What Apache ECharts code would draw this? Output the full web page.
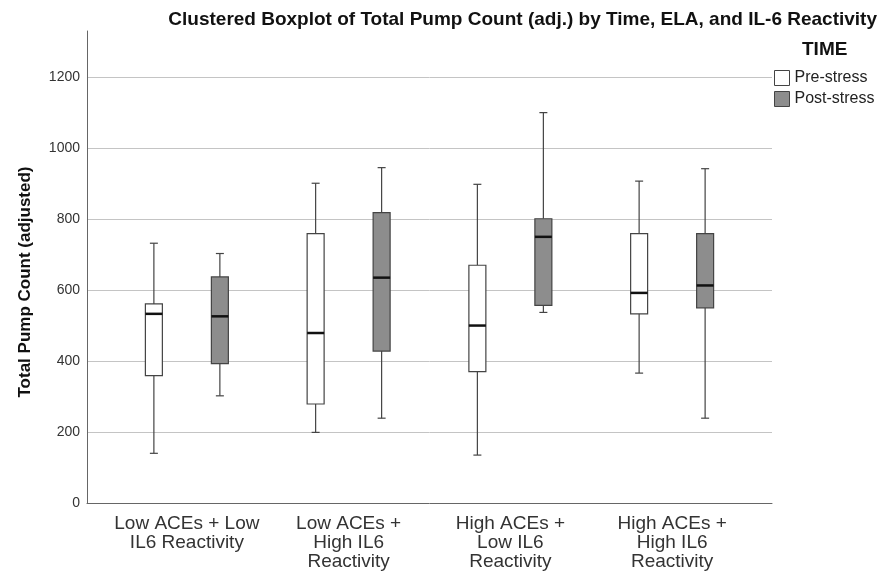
<!DOCTYPE html>
<html>
<head>
<meta charset="utf-8">
<script src="https://cdn.jsdelivr.net/npm/echarts@6.0.0/dist/echarts.min.js"></script>
<style>
    html, body {margin: 0; padding: 0; background: #fff;}
    #chart {width: 881px; height: 578px;}
</style>
</head>
<body>
<div id="chart"></div>
<script>
const categories = [
    'Low ACEs + Low\nIL6 Reactivity',
    'Low ACEs +\nHigh IL6\nReactivity',
    'High ACEs +\nLow IL6\nReactivity',
    'High ACEs +\nHigh IL6\nReactivity'
]
const seriesNames = ['Pre-stress', 'Post-stress']
// [min, Q1, median, Q3, max]
const preStress = [
    [140, 359, 533, 561, 732],
    [199, 279, 479, 759, 901],
    [135, 370, 500, 670, 898],
    [366, 533, 592, 759, 907]
]
const postStress = [
    [302, 393, 526, 637, 703],
    [239, 428, 635, 818, 945],
    [537, 557, 750, 801, 1100],
    [239, 550, 613, 759, 942]
]
const yTicks = [0, 200, 400, 600, 800, 1000, 1200]
const yMax = 1330

const FONT = '"Liberation Sans", Arial, sans-serif'
const LINE = '#444'

// 箱体相对分组中心的偏移与宽度（按带宽比例）
function boxRenderer(side, fill) {
    return function (params, api) {
        const band = api.size([1, 0])[0]
        const cat = api.value(0)
        const x = api.coord([cat, 0])[0] + side * band * 0.204
        const half = band * 0.105 / 2
        const cap = 4
        const y = k => api.coord([cat, api.value(k)])[1]
        const lo = y(1), q1 = y(2), med = y(3), q3 = y(4), hi = y(5)
        const ls = {stroke: LINE, lineWidth: 1.2}
        return {
            type: 'group',
            children: [
                {type: 'line', shape: {x1: x, y1: hi, x2: x, y2: q3}, style: ls},
                {type: 'line', shape: {x1: x, y1: q1, x2: x, y2: lo}, style: ls},
                {type: 'line', shape: {x1: x - cap, y1: hi, x2: x + cap, y2: hi}, style: ls},
                {type: 'line', shape: {x1: x - cap, y1: lo, x2: x + cap, y2: lo}, style: ls},
                {type: 'rect', shape: {x: x - half, y: q3, width: half * 2, height: q1 - q3},
                    style: {fill: fill, stroke: LINE, lineWidth: 1.2}},
                {type: 'line', shape: {x1: x - half, y1: med, x2: x + half, y2: med},
                    style: {stroke: '#111', lineWidth: 2.5}}
            ]
        }
    }
}

function toItems(rows) {
    return rows.map((r, i) => [i].concat(r))
}

const fills = ['#ffffff', '#8d8d8d']

const option = {
    backgroundColor: '#fff',
    animation: false,
    title: [
        {
            text: 'Clustered Boxplot of Total Pump Count (adj.) by Time, ELA, and IL-6 Reactivity',
            right: 4,
            top: 10,
            padding: 0,
            textStyle: {fontFamily: FONT, fontSize: 19, fontWeight: 'bold', color: '#111'}
        },
        {
            text: 'TIME',
            left: 802,
            top: 40,
            padding: 0,
            textStyle: {fontFamily: FONT, fontSize: 19, fontWeight: 'bold', color: '#111'}
        }
    ],
    legend: {
        orient: 'vertical',
        left: 774,
        top: 70,
        padding: 0,
        itemWidth: 15,
        itemHeight: 15,
        itemGap: 5,
        icon: 'rect',
        textStyle: {fontFamily: FONT, fontSize: 16, color: '#222'},
        data: seriesNames.map((n, i) => ({
            name: n,
            itemStyle: {color: fills[i], borderColor: LINE, borderWidth: 1}
        }))
    },
    grid: [
        {left: 87, right: 109, top: 31, bottom: 75},
        {left: 106, right: 128, top: 31, bottom: 75}
    ],
    xAxis: [
        {
            type: 'value', gridIndex: 0, min: 0, max: 1,
            axisLine: {show: true, lineStyle: {color: '#666', width: 1}},
            axisTick: {show: false}, axisLabel: {show: false}, splitLine: {show: false}
        },
        {
            type: 'category', gridIndex: 1, data: categories,
            axisLine: {show: false}, axisTick: {show: false},
            axisLabel: {
                interval: 0, margin: 11, fontFamily: FONT, fontSize: 19,
                lineHeight: 19, color: '#333'
            }
        }
    ],
    yAxis: [
        {
            type: 'value', gridIndex: 0, min: 0, max: yMax, interval: 200,
            name: 'Total Pump Count (adjusted)',
            nameLocation: 'middle',
            nameGap: 53,
            nameTextStyle: {
                fontFamily: FONT, fontSize: 17, fontWeight: 'bold', color: '#111',
                padding: [0, 30, 0, 0]
            },
            axisLine: {show: true, lineStyle: {color: '#666', width: 1}},
            axisTick: {show: false},
            axisLabel: {
                margin: 7, fontFamily: FONT, fontSize: 14, color: '#333',
                formatter: v => (yTicks.indexOf(v) >= 0 ? String(v) : '')
            },
            splitLine: {
                show: true, showMinLine: false, showMaxLine: false,
                lineStyle: {color: '#c4c4c4', width: 1}
            }
        },
        {type: 'value', gridIndex: 1, min: 0, max: yMax, show: false}
    ],
    series: [preStress, postStress].map((rows, i) => ({
        name: seriesNames[i],
        type: 'custom',
        xAxisIndex: 1,
        yAxisIndex: 1,
        itemStyle: {color: fills[i], borderColor: LINE, borderWidth: 1},
        encode: {x: 0, y: [1, 2, 3, 4, 5]},
        renderItem: boxRenderer(i === 0 ? -1 : 1, fills[i]),
        data: toItems(rows)
    }))
}

const myChart = echarts.init(document.getElementById('chart'), null, {renderer: 'canvas'})
myChart.setOption(option)
</script>
</body>
</html>
